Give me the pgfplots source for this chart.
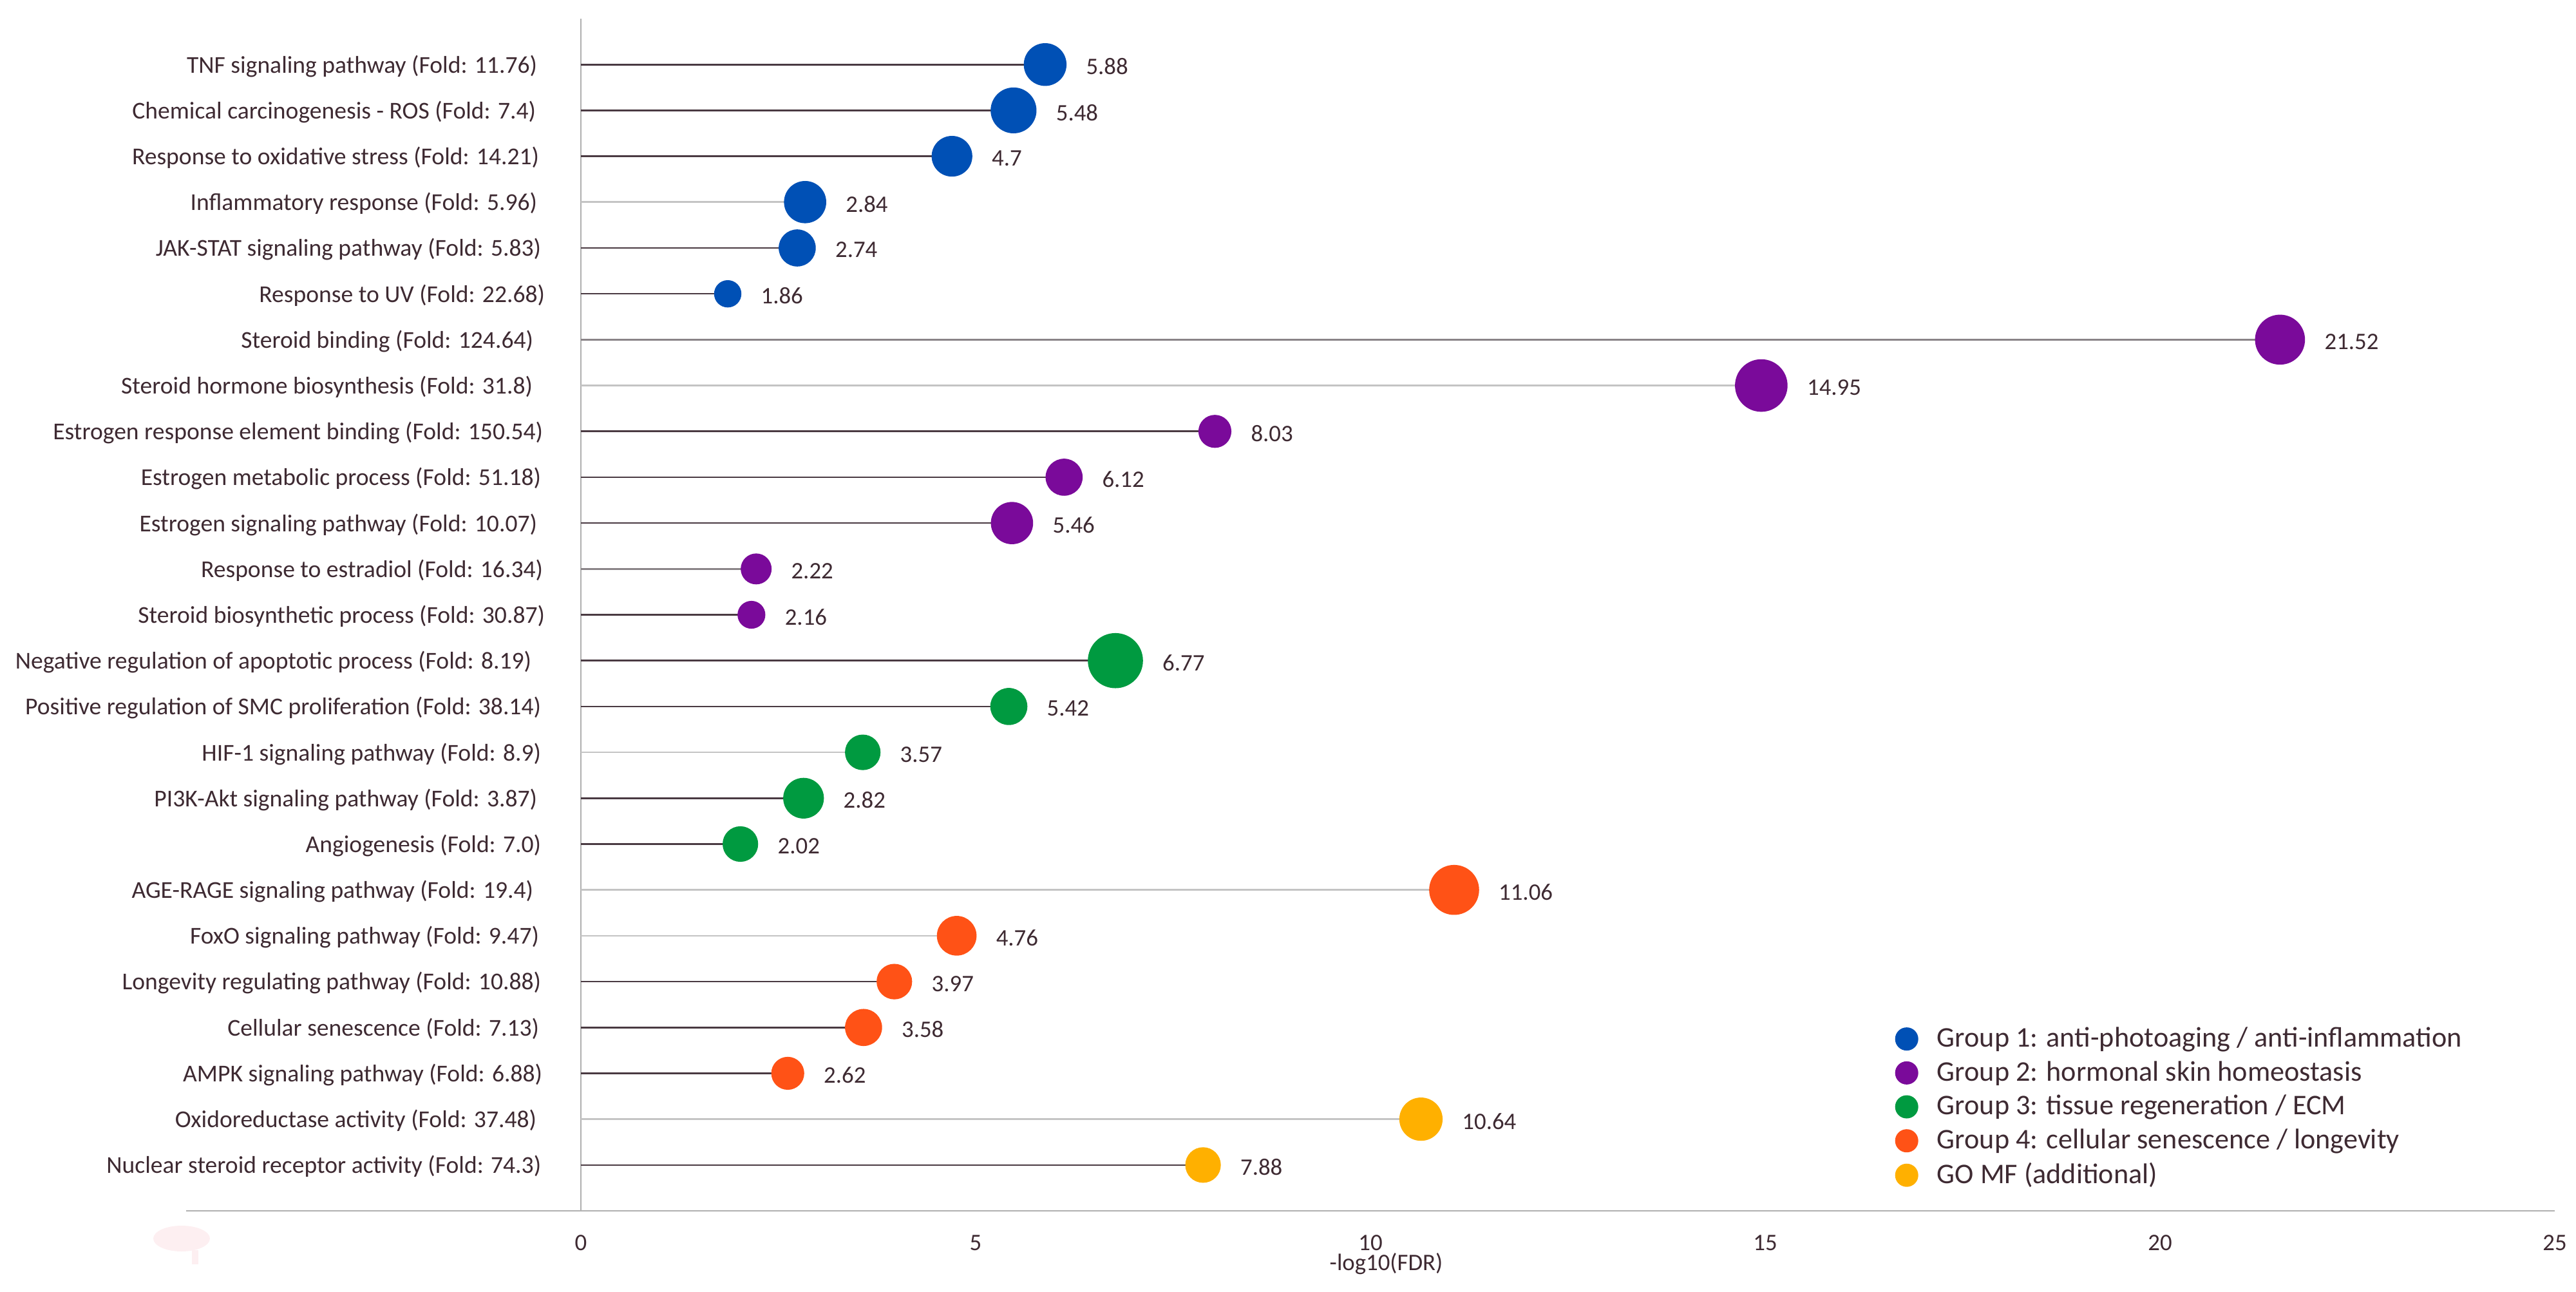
\documentclass[border=0pt]{standalone}
\usepackage{fontspec}
\setmainfont{Carlito}
\usepackage{pgfplots}
\usepackage{pgfplotstable}
\pgfplotsset{compat=1.18}

\definecolor{txt}{HTML}{3E2A32}
\definecolor{stemdark}{HTML}{4A3A42}
\definecolor{stemmid}{HTML}{8A8488}
\definecolor{stemlight}{HTML}{C4C4C4}
\definecolor{axisgrey}{HTML}{B0B0B0}
\definecolor{blobpink}{HTML}{FDEFF1}
\definecolor{gblue}{HTML}{0050B5}
\definecolor{gpurple}{HTML}{7A0A9A}
\definecolor{ggreen}{HTML}{009A40}
\definecolor{gorange}{HTML}{FF5216}
\definecolor{gyellow}{HTML}{FFB000}

% x = -log10(FDR), y = row from the top, r = marker radius in pt
\pgfplotstableread{
x y r
5.88 0 8.1
5.48 1 8.7
4.70 2 7.7
2.84 3 8.0
2.74 4 7.0
1.86 5 5.1
}\groupone
\pgfplotstableread{
x y r
21.52 6 9.5
14.95 7 10.0
8.03 8 6.2
6.12 9 7.0
5.46 10 8.0
2.22 11 5.8
2.16 12 5.2
}\grouptwo
\pgfplotstableread{
x y r
6.77 13 10.5
5.42 14 7.0
3.57 15 6.7
2.82 16 7.7
2.02 17 6.7
}\groupthree
\pgfplotstableread{
x y r
11.06 18 9.5
4.76 19 7.5
3.97 20 6.7
3.58 21 7.0
2.62 22 6.2
}\groupfour
\pgfplotstableread{
x y r
10.64 23 8.2
7.88 24 6.7
}\groupmf

\newcommand{\lab}{\fontsize{9.2}{11}\selectfont}
\newcommand{\ylab}{\fontsize{9.4}{11}\selectfont}
% the row labels do not share one right edge in the reference
\newcommand{\R}[1]{\hspace*{#1pt}}
\pgfplotsset{
  lolli/.style={
    scatter, only marks, mark=*, forget plot,
    point meta=x,
    scatter/use mapped color={draw=#1, fill=#1},
    visualization depends on={\thisrow{r} \as \rad},
    scatter/@pre marker code/.append style={/tikz/mark size=\rad pt, /tikz/line width=0pt},
    nodes near coords*,
    every node near coord/.append style={anchor=west, font=\lab, text=txt, inner sep=0pt, xshift=\rad pt+7.6pt, yshift=-0.8pt},
  },
  stem/.style={xcomb, no marks, forget plot, line width=0.65pt, color=#1},
  legdot/.style={only marks, mark=*, mark size=4.3pt, color=#1},
}

\begin{document}
\begin{tikzpicture}
\useasboundingbox (0,0) rectangle (1000pt,501.25pt);
% faint pink smudge under the left end of the axis
\fill[blobpink] (70.5pt,20.5pt) ellipse [x radius=11pt, y radius=5pt];
\fill[blobpink] (74.5pt,16pt) rectangle (77pt,10.5pt);
\begin{axis}[
  at={(72.25pt,31.25pt)}, anchor=south west,
  scale only axis, width=919.5pt, height=462.75pt,
  xmin=-5, xmax=25, ymin=-1, ymax=25, y dir=reverse,
  clip=false,
  axis x line=bottom, axis y line=center,
  axis line style={-, color=axisgrey, line width=0.55pt},
  xtick={0,5,10,15,20,25},
  hide obscured x ticks=false,
  ytick={0,...,24},
  yticklabels={
    TNF signaling pathway (Fold: 11.76)\R{3.25},
    Chemical carcinogenesis - ROS (Fold: 7.4)\R{3.75},
    Response to oxidative stress (Fold: 14.21)\R{2.5},
    Inflammatory response (Fold: 5.96)\R{3.25},
    JAK-STAT signaling pathway (Fold: 5.83)\R{1.75},
    Response to UV (Fold: 22.68)\R{0.25},
    Steroid binding (Fold: 124.64)\R{4.75},
    Steroid hormone biosynthesis (Fold: 31.8)\R{5},
    Estrogen response element binding (Fold: 150.54)\R{1},
    Estrogen metabolic process (Fold: 51.18)\R{1.75},
    Estrogen signaling pathway (Fold: 10.07)\R{3.25},
    Response to estradiol (Fold: 16.34)\R{1},
    Steroid biosynthetic process (Fold: 30.87)\R{0.25},
    Negative regulation of apoptotic process (Fold: 8.19)\R{5.5},
    Positive regulation of SMC proliferation (Fold: 38.14)\R{1.75},
    HIF-1 signaling pathway (Fold: 8.9)\R{1.75},
    PI3K-Akt signaling pathway (Fold: 3.87)\R{3.25},
    Angiogenesis (Fold: 7.0)\R{1.75},
    AGE-RAGE signaling pathway (Fold: 19.4)\R{4.75},
    FoxO signaling pathway (Fold: 9.47)\R{2.5},
    Longevity regulating pathway (Fold: 10.88)\R{1.75},
    Cellular senescence (Fold: 7.13)\R{2.5},
    AMPK signaling pathway (Fold: 6.88)\R{1.25},
    Oxidoreductase activity (Fold: 37.48)\R{3.5},
    Nuclear steroid receptor activity (Fold: 74.3)\R{1.75}
  },
  major tick length=0pt,
  tick style={draw=none},
  y tick label style={anchor=east, inner sep=0pt, xshift=-13.5pt, yshift=-0.6pt, font=\ylab, text=txt},
  x tick label style={font=\lab, text=txt, inner sep=0pt, yshift=-9.2pt},
  /pgf/number format/assume math mode=true,
  /pgf/number format/fixed,
  /pgf/number format/precision=2,
  xlabel={-log10(FDR)},
  xlabel style={at={(axis cs:10.2,25)}, anchor=center, font=\lab, text=txt, inner sep=0pt, yshift=-20.5pt},
  legend style={at={(axis cs:16.645,20.87)}, anchor=north west, draw=none, fill=none,
    font=\fontsize{11.05}{12}\selectfont, text=txt, inner sep=0pt,
    row sep=0pt, /tikz/every odd column/.append style={column sep=5.5pt}},
  legend cell align=left,
]
% stems: the shade follows the reference, row by row
\addplot[stem=stemdark] coordinates {(5.88,0) (5.48,1) (4.70,2) (2.74,4) (1.86,5) (8.03,8) (6.12,9) (5.46,10) (2.16,12) (6.77,13) (5.42,14) (2.82,16) (2.02,17) (3.97,20) (3.58,21) (2.62,22) (7.88,24)};
\addplot[stem=stemmid] coordinates {(21.52,6) (2.22,11)};
\addplot[stem=stemlight] coordinates {(2.84,3) (14.95,7) (3.57,15) (11.06,18) (4.76,19) (10.64,23)};

\addplot[lolli=gblue] table {\groupone};
\addplot[lolli=gpurple] table {\grouptwo};
\addplot[lolli=ggreen] table {\groupthree};
\addplot[lolli=gorange] table {\groupfour};
\addplot[lolli=gyellow] table {\groupmf};

\addlegendimage{legdot=gblue}
\addlegendentry{Group 1: anti-photoaging / anti-inflammation}
\addlegendimage{legdot=gpurple}
\addlegendentry{Group 2: hormonal skin homeostasis}
\addlegendimage{legdot=ggreen}
\addlegendentry{Group 3: tissue regeneration / ECM}
\addlegendimage{legdot=gorange}
\addlegendentry{Group 4: cellular senescence / longevity}
\addlegendimage{legdot=gyellow}
\addlegendentry{GO MF (additional)}
\end{axis}
\end{tikzpicture}
\end{document}
